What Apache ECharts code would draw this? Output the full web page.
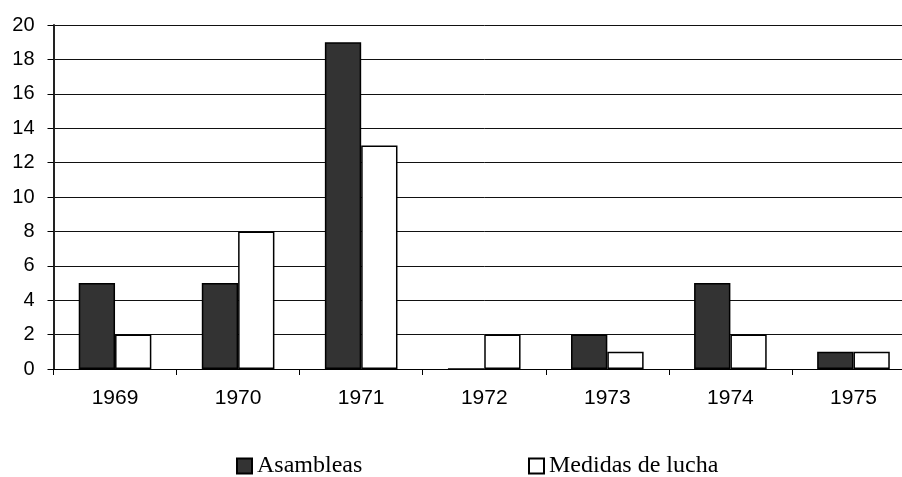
<!DOCTYPE html>
<html><head><meta charset="utf-8">
<script src="https://cdn.jsdelivr.net/npm/echarts@6/dist/echarts.min.js"></script>
<style>html,body{margin:0;padding:0;background:#fff;overflow:hidden;width:902px;height:477px}#c{width:915px;height:477px}</style>
</head><body><div id="c"></div>
<script>
var categories = ['1969','1970','1971','1972','1973','1974','1975'];
var asambleas = [5,5,19,0,2,5,1];
var medidas = [2,8,13,2,1,2,1];
var yTicks = [0,2,4,6,8,10,12,14,16,18,20];

var chart = echarts.init(document.getElementById('c'), null, {renderer:'canvas'});
var legendText = {fontFamily:'Liberation Serif', fontSize:24, color:'#000'};
chart.setOption({
  animation:false,
  backgroundColor:'#fff',
  grid:{left:53.5, top:25, right:0, bottom:108, containLabel:false},
  legend:[
    {data:['Asambleas'], left:231, top:449, itemWidth:15, itemHeight:15, itemGap:0, textStyle:legendText, icon:'rect'},
    {data:['Medidas de lucha'], left:523, top:449, itemWidth:15, itemHeight:15, itemGap:0, textStyle:legendText, icon:'rect'}
  ],
  xAxis:{type:'category', data:categories,
    axisLine:{lineStyle:{color:'#000', width:1}},
    axisTick:{show:true, length:6, lineStyle:{color:'#000'}},
    axisLabel:{color:'#000', fontFamily:'Liberation Sans', fontSize:21, margin:19}
  },
  yAxis:{type:'value', min:0, max:20, interval:2,
    axisLine:{show:true, lineStyle:{color:'#222', width:2}},
    axisTick:{show:true, length:6, lineStyle:{color:'#000'}},
    axisLabel:{color:'#000', fontFamily:'Liberation Sans', fontSize:20, margin:19,
      formatter:function(v){return yTicks.indexOf(v)>=0?String(v):'';}},
    splitLine:{lineStyle:{color:'#111', width:1}}
  },
  series:[
    {name:'Asambleas', type:'bar', data:asambleas, barGap:'0%', barCategoryGap:'41%',
     itemStyle:{color:'#333333', borderColor:'#000', borderWidth:1.5}},
    {name:'Medidas de lucha', type:'bar', data:medidas,
     itemStyle:{color:'#ffffff', borderColor:'#000', borderWidth:1.5}}
  ]
});
</script></body></html>
